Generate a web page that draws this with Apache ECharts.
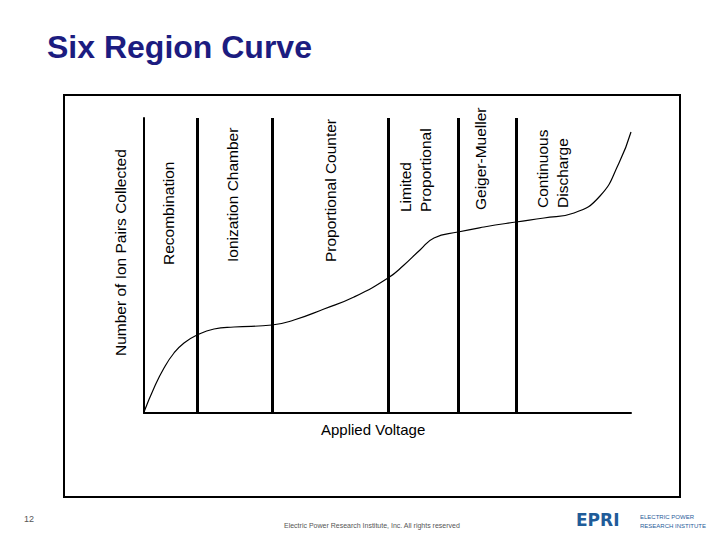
<!DOCTYPE html>
<html>
<head>
<meta charset="utf-8">
<script src="https://cdn.jsdelivr.net/npm/echarts@6/dist/echarts.min.js"></script>
<style>
  html, body { margin: 0; padding: 0; background: #fff; }
  #chart { width: 720px; height: 540px; }
</style>
</head>
<body>
<div id="chart"></div>
<script>
// curve (voltage units, collected pairs)
const voltage = [0, 10, 20, 30, 40, 53, 70, 90, 128, 150, 180, 210, 244, 260, 276, 290, 314, 340, 372, 400, 430, 456, 475, 487]
const pairs = [1, 25, 45, 60, 70, 78, 84, 86, 88, 93, 104, 116, 135, 148, 163, 175, 181, 186, 191, 195, 200, 217, 250, 281]
// region boundaries
const boundaries = [53, 128, 244, 314, 372]
const regionLabels = ['Recombination', 'Ionization Chamber', 'Proportional Counter', 'Limited\nProportional', 'Geiger-Mueller', 'Continuous\nDischarge']
const labelPos = [[168, 265], [232, 262], [330, 262], [415, 212], [480, 210], [552, 208]]

const chart = echarts.init(document.getElementById('chart'), null, { renderer: 'svg' })

const rotText = (text, [x, y], size = 15.5) => ({
  type: 'text',
  x, y,
  rotation: Math.PI / 2,
  style: {
    text,
    fontFamily: 'Liberation Sans, Arial, sans-serif',
    fontSize: size,
    fill: '#000',
    align: 'left',
    verticalAlign: 'middle',
    lineHeight: 20,
  },
})

chart.setOption({
  animation: false,
  backgroundColor: '#fff',
  grid: { left: 144, right: 89, top: 118, bottom: 127 },
  xAxis: {
    type: 'value', min: 0, max: 487,
    axisLine: { lineStyle: { color: '#000', width: 2 } },
    axisTick: { show: false }, axisLabel: { show: false }, splitLine: { show: false },
  },
  yAxis: {
    type: 'value', min: 0, max: 295,
    axisLine: { show: true, lineStyle: { color: '#000', width: 2 } },
    axisTick: { show: false }, axisLabel: { show: false }, splitLine: { show: false },
  },
  series: [
    {
      type: 'line',
      smooth: true,
      symbol: 'none',
      data: voltage.map((v, i) => [v, pairs[i]]),
      lineStyle: { color: '#000', width: 1.2 },
      markLine: {
        silent: true,
        symbol: 'none',
        label: { show: false },
        lineStyle: { color: '#000', width: 3, type: 'solid' },
        data: boundaries.map((b) => ({ xAxis: b })),
      },
    },
  ],
  graphic: [
    {
      type: 'text', left: 47, top: 31,
      style: { text: 'Six Region Curve', fontFamily: 'Liberation Sans, Arial, sans-serif', fontSize: 32, fontWeight: 'bold', fill: '#1c1c80' },
    },
    {
      type: 'rect', shape: { x: 64, y: 95, width: 616, height: 402 },
      style: { fill: 'none', stroke: '#000', lineWidth: 2 },
    },
    rotText('Number of Ion Pairs Collected', [120, 356]),
    ...regionLabels.map((t, i) => rotText(t, labelPos[i])),
    {
      type: 'text', x: 321, y: 422,
      style: { text: 'Applied Voltage', fontFamily: 'Liberation Sans, Arial, sans-serif', fontSize: 15, fill: '#000' },
    },
    {
      type: 'text', x: 24, y: 514,
      style: { text: '12', fontFamily: 'Liberation Sans, Arial, sans-serif', fontSize: 9, fill: '#555' },
    },
    {
      type: 'text', x: 284, y: 522,
      style: { text: 'Electric Power Research Institute, Inc. All rights reserved', fontFamily: 'Liberation Sans, Arial, sans-serif', fontSize: 7, fill: '#555' },
    },
    {
      type: 'text', x: 576, y: 511,
      style: { text: 'EPRI', fontFamily: 'DejaVu Sans, sans-serif', fontSize: 17, fontWeight: 'bold', fill: '#1f5c99' },
    },
    {
      type: 'text', x: 640, y: 512,
      style: { text: 'ELECTRIC POWER\nRESEARCH INSTITUTE', fontFamily: 'Liberation Sans, Arial, sans-serif', fontSize: 6, lineHeight: 9, fill: '#1f5c99' },
    },
  ],
})
</script>
</body>
</html>
